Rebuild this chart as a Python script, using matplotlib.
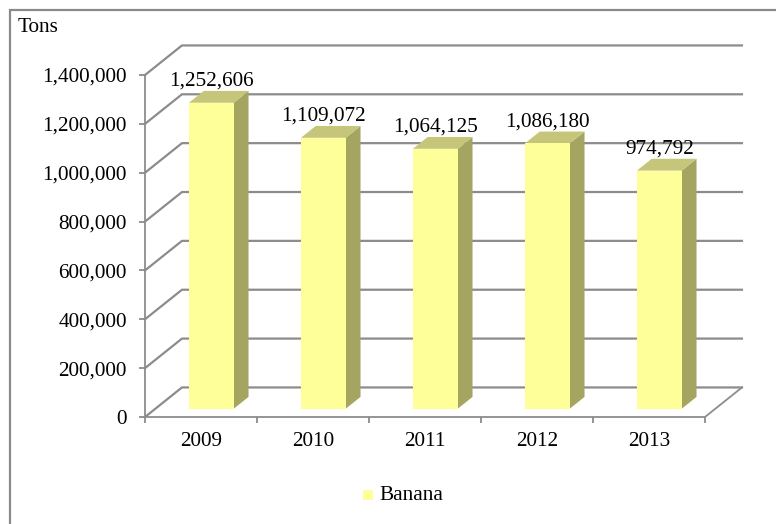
import matplotlib.pyplot as plt
from matplotlib.patches import Polygon, Rectangle

plt.rcParams['font.family'] = ['Liberation Serif', 'DejaVu Serif']

years = ['2009', '2010', '2011', '2012', '2013']
banana = [1252606, 1109072, 1064125, 1086180, 974792]
yticks = [0, 200000, 400000, 600000, 800000, 1000000, 1200000, 1400000]

FRONT = '#FFFF99'
SIDE = '#A5A562'
TOP = '#C6C67A'
GRID = '#8C8C8C'
FS = 15.3

# oblique depth vector (category units, value units)
DX, DY = 0.33, 121000
BAR_W = 0.4
D0, D1 = 0.28, 0.68

fig = plt.figure(figsize=(7.76, 5.24), dpi=100)
ax = fig.add_axes([145 / 776, 1 - 417 / 524, 560 / 776, 342 / 524])
n = len(years)
ax.set_xlim(-0.5, n - 0.5)
ax.set_ylim(0, yticks[-1])
for s in ax.spines.values():
    s.set_visible(False)

# walls and gridlines
for v in yticks:
    ax.plot([-0.5, -0.5 + DX, n - 0.5 + DX], [v, v + DY, v + DY],
            color=GRID, lw=1.6, clip_on=False, zorder=1)
ax.plot([-0.5, -0.5], [0, yticks[-1]], color=GRID, lw=1.3, clip_on=False)
ax.plot([-0.5, n - 0.5, n - 0.5 + DX], [0, 0, DY], color=GRID, lw=1.3,
        clip_on=False, zorder=1)

# bars
for i, v in enumerate(banana):
    x0 = i - BAR_W / 2 + D0 * DX
    x1 = x0 + BAR_W
    y0 = D0 * DY
    dd = (D1 - D0)
    ax.add_patch(Polygon([(x1, y0), (x1 + dd * DX, y0 + dd * DY),
                          (x1 + dd * DX, y0 + v + dd * DY), (x1, y0 + v)],
                         facecolor=SIDE, edgecolor='none', clip_on=False, zorder=3))
    ax.add_patch(Polygon([(x0, y0 + v), (x1, y0 + v), (x1 + dd * DX, y0 + v + dd * DY),
                          (x0 + dd * DX, y0 + v + dd * DY)],
                         facecolor=TOP, edgecolor='none', clip_on=False, zorder=3))
    ax.add_patch(Rectangle((x0, y0), BAR_W, v, facecolor=FRONT, edgecolor='none',
                           clip_on=False, zorder=4))
    ax.annotate(f'{v:,}', ((x0 + x1) / 2, y0 + v + dd * DY), xytext=(0, 0),
                textcoords='offset points', ha='center', va='bottom',
                fontsize=FS, zorder=5, annotation_clip=False)

ax.set_yticks(yticks)
ax.set_yticklabels([f'{v:,}' for v in yticks])
ax.set_xticks(range(n))
ax.set_xticklabels(years)
ax.set_xticks([i - 0.5 for i in range(n + 1)], minor=True)
ax.tick_params(axis='y', length=4, color=GRID, width=1.3, labelsize=FS, pad=9)
ax.tick_params(axis='x', which='major', length=0, labelsize=FS, pad=11)
ax.tick_params(axis='x', which='minor', length=4, color=GRID, width=1.3)

fig.text(18 / 776, 1 - 28 / 524, 'Tons', fontsize=FS, va='center', ha='left')

# legend
fig.patches.append(Rectangle((363 / 776, 1 - 500 / 524), 10 / 776, 10 / 524,
                             facecolor=FRONT, edgecolor='none',
                             transform=fig.transFigure))
fig.text(379 / 776, 1 - 495 / 524, 'Banana', fontsize=FS, va='center', ha='left')

# outer frame
fig.patches.append(Rectangle((10 / 776, -0.1), 1.1, 1 - 10 / 524 + 0.1,
                             facecolor='none', edgecolor='#8A8A8A', lw=1.6,
                             transform=fig.transFigure))

fig.savefig('out.png', dpi=100)
